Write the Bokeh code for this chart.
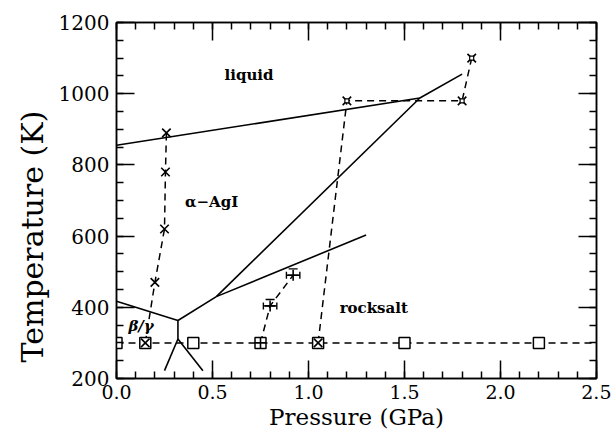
from bokeh.plotting import figure
from bokeh.models import LinearAxis, Range1d, Label, FixedTicker, PrintfTickFormatter, Title
from bokeh.embed import file_html
from bokeh.resources import INLINE

# ---- data ----
# isotherm at room temperature (squares)
sq_p = [0.0, 0.15, 0.4, 0.75, 1.05, 1.5, 2.2]
sq_t = [300, 300, 300, 300, 300, 300, 300]
iso_p = [0.0, 2.5]
iso_t = [300, 300]

# alpha-AgI path (crosses)
alpha_p = [0.15, 0.20, 0.25, 0.255, 0.26]
alpha_t = [300, 470, 620, 780, 890]

# rocksalt path (plus with error bars)
rs_p = [0.75, 0.80, 0.92]
rs_t = [300, 404, 490]
rs_dp = [0.0, 0.035, 0.035]
rs_dt = [0, 18, 18]

# melting path (crosses with inner squares)
melt_p = [1.05, 1.2, 1.8, 1.85]
melt_t = [300, 980, 980, 1100]

# phase boundaries (solid lines)
bound_p = [
    [0.0, 1.58],
    [0.52, 1.58],
    [1.58, 1.80],
    [0.0, 0.32],
    [0.32, 0.52],
    [0.52, 1.30],
    [0.32, 0.32],
    [0.32, 0.25],
    [0.32, 0.45],
]
bound_t = [
    [855, 988],
    [430, 988],
    [988, 1055],
    [417, 363],
    [363, 430],
    [430, 603],
    [363, 311],
    [311, 222],
    [311, 222],
]

x_ticks = [0.0, 0.5, 1.0, 1.5, 2.0, 2.5]
y_ticks = [200, 400, 600, 800, 1000, 1200]
x_minor = [i / 10 for i in range(0, 26)]
y_minor = list(range(200, 1201, 50))

FONT = "DejaVu Serif"

p = figure(width=611, height=432, x_range=Range1d(0, 2.5), y_range=Range1d(200, 1200),
           output_backend="svg", toolbar_location=None,
           min_border_left=116, min_border_right=15, min_border_top=22, min_border_bottom=54)
p.xgrid.visible = False
p.ygrid.visible = False
p.outline_line_color = "black"
p.outline_line_width = 1.5
p.background_fill_color = "white"
p.border_fill_color = "white"

def style_axis(ax, ticks, minor, show_labels):
    ax.ticker = FixedTicker(ticks=ticks, minor_ticks=minor)
    ax.major_tick_in = 18
    ax.major_tick_out = 0
    ax.minor_tick_in = 7
    ax.minor_tick_out = 0
    ax.axis_line_width = 1.5
    ax.major_tick_line_width = 1.5
    ax.minor_tick_line_width = 1.5
    ax.major_label_text_font = FONT
    ax.major_label_text_font_size = "20px"
    ax.major_label_text_color = "black" if show_labels else None

style_axis(p.xaxis[0], x_ticks, x_minor, True)
style_axis(p.yaxis[0], y_ticks, y_minor, True)
p.xaxis[0].formatter = PrintfTickFormatter(format="%.1f")
p.xaxis[0].major_label_text_font_size = "19px"
p.xaxis[0].axis_label = "Pressure (GPa)"
p.xaxis[0].axis_label_text_font = FONT
p.xaxis[0].axis_label_text_font_style = "normal"
p.xaxis[0].axis_label_text_font_size = "23px"
p.xaxis[0].axis_label_text_color = "black"
p.xaxis[0].major_label_standoff = 6
p.xaxis[0].axis_label_standoff = 2
p.yaxis[0].major_label_standoff = 7

top = LinearAxis()
style_axis(top, x_ticks, x_minor, False)
top.major_label_text_font_size = "0px"
top.major_label_standoff = 0
p.add_layout(top, "above")
right = LinearAxis()
style_axis(right, y_ticks, y_minor, False)
right.major_label_text_font_size = "0px"
right.major_label_standoff = 0
p.add_layout(right, "right")

# y axis title
ytitle = Title(text="Temperature (K)", text_font=FONT, text_font_size="30px",
               text_font_style="normal", text_color="black", align="left", offset=16,
               standoff=12)
p.add_layout(ytitle, "left")

# phase boundaries
p.multi_line(bound_p, bound_t, line_color="black", line_width=1.6)

# dashed paths
for xs, ys in [(iso_p, iso_t), (alpha_p, alpha_t), (rs_p, rs_t), (melt_p, melt_t)]:
    p.line(xs, ys, line_color="black", line_width=1.5, line_dash="7 5")

# markers
p.scatter(sq_p, sq_t, marker="square", size=11, fill_color="white", line_color="black", line_width=1.5)
p.scatter(alpha_p, alpha_t, marker="x", size=12, line_color="black", line_width=1.6)
p.scatter(melt_p, melt_t, marker="x", size=12, line_color="black", line_width=1.6)
p.scatter(melt_p[1:], melt_t[1:], marker="square", size=4, fill_color="white", line_color="black", line_width=1.2)
p.scatter(rs_p, rs_t, marker="cross", size=11, line_color="black", line_width=1.6)
x0 = [pp - d for pp, d in zip(rs_p[1:], rs_dp[1:])]
x1 = [pp + d for pp, d in zip(rs_p[1:], rs_dp[1:])]
p.segment(x0, rs_t[1:], x1, rs_t[1:], line_color="black", line_width=1.4)
p.scatter(x0, rs_t[1:], marker="dash", angle=1.5708, size=7, line_color="black", line_width=1.4)
p.scatter(x1, rs_t[1:], marker="dash", angle=1.5708, size=7, line_color="black", line_width=1.4)
ytop = [tt + d for tt, d in zip(rs_t[1:], rs_dt[1:])]
p.scatter(rs_p[1:], ytop, marker="dash", size=9, line_color="black", line_width=1.4)

# phase labels
lab_text = ["liquid", "\u03b1\u2212AgI", "rocksalt", "\u03b2/\u03b3"]
lab_p = [0.69, 0.495, 1.34, 0.128]
lab_t = [1052, 697, 398, 347]
lab_style = ["bold", "bold", "bold", "bold italic"]
for txt, xx, yy, st in zip(lab_text, lab_p, lab_t, lab_style):
    p.add_layout(Label(x=xx, y=yy, text=txt, text_font=FONT, text_font_size="15px",
                       text_font_style=st, text_align="center", text_baseline="middle",
                       text_color="black"))

open("out.html", "w").write(file_html(p, INLINE))
